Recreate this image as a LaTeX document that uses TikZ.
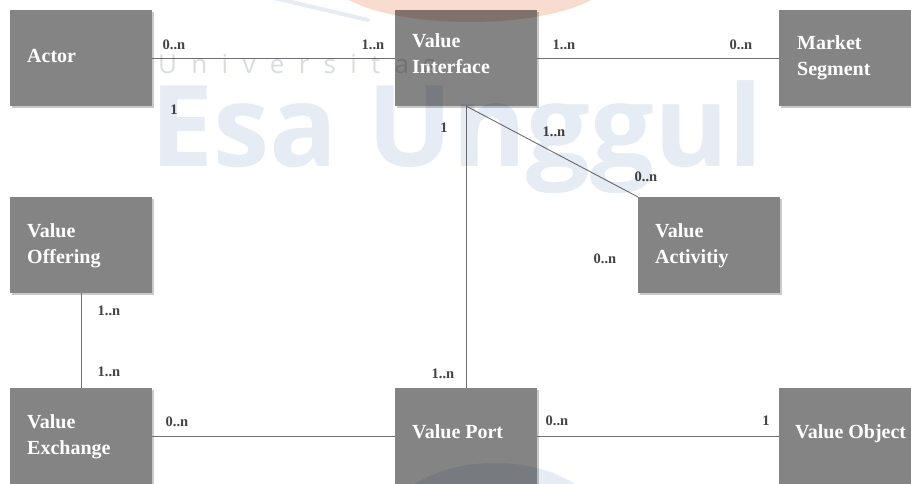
\documentclass[tikz,border=0pt]{standalone}
\usepackage{fontspec}
\setmainfont{Liberation Serif}
\newfontfamily\wmsans{Open Sans}
\newfontfamily\wmspaced{Open Sans}[LetterSpace=55]

\definecolor{boxgray}{HTML}{848484}
\definecolor{shadowgray}{HTML}{C9C9C9}
\definecolor{linkgray}{HTML}{707070}
\definecolor{cardgray}{HTML}{444444}
\definecolor{wmblue}{HTML}{E6ECF4}
\definecolor{wmpale}{HTML}{D9DDE3}
\definecolor{wmorange}{HTML}{F8DCD0}

\newcommand\boxlines[1]{\parbox[t]{120pt}{\raggedright #1}}

\tikzset{
  entity/.style={rectangle, fill=boxgray, minimum width=142pt, minimum height=96pt,
    anchor=north west, inner sep=0pt, outer sep=0pt,
    preaction={fill=shadowgray, transform canvas={xshift=2pt, yshift=-2pt}}},
  entitytext/.style={anchor=base west, inner sep=0pt, text=white,
    font=\bfseries\fontsize{20}{26}\selectfont},
  link/.style={draw=linkgray, line width=0.9pt},
  card/.style={anchor=base, inner sep=0pt, text=cardgray,
    font=\bfseries\fontsize{14.5}{15}\selectfont},
}

\begin{document}
\begin{tikzpicture}[x=1pt, y=-1pt]
\useasboundingbox (0,0) rectangle (911,484);
\clip (0,0) rectangle (911,484);
\fill[white] (0,0) rectangle (911,484);

% entity boxes
\node[entity] (actor)  at (10,10)   {};
\node[entity] (vi)     at (395,10)  {};
\node[entity] (ms)     at (779,10)  {};
\node[entity] (voff)   at (10,197)  {};
\node[entity] (vact)   at (638,197) {};
\node[entity] (vx)     at (10,388)  {};
\node[entity] (vp)     at (395,388) {};
\node[entity] (vobj)   at (779,388) {};

% entity names
\node[entitytext] (actor-t) at ([xshift=17pt, yshift=-53pt]actor.north west) {Actor};
\node[entitytext] (vi-t)    at ([xshift=17pt, yshift=-38pt]vi.north west) {\boxlines{Value\\Interface}};
\node[entitytext] (ms-t)    at ([xshift=18pt, yshift=-40pt]ms.north west) {\boxlines{Market\\Segment}};
\node[entitytext] (voff-t)  at ([xshift=17pt, yshift=-40pt]voff.north west) {\boxlines{Value\\Offering}};
\node[entitytext] (vact-t)  at ([xshift=17pt, yshift=-40pt]vact.north west) {\boxlines{Value\\Activitiy}};
\node[entitytext] (vx-t)    at ([xshift=17pt, yshift=-40pt]vx.north west) {\boxlines{Value\\Exchange}};
\node[entitytext] (vp-t)    at ([xshift=17pt, yshift=-50pt]vp.north west) {Value Port};
\node[entitytext] (vobj-t)  at ([xshift=16pt, yshift=-50pt]vobj.north west) {Value Object};

% associations
\draw[link] (actor.east) -- (vi.west);
\draw[link] (vi.east) -- (ms.west);
\draw[link] (vi.south) -- (vp.north);
\draw[link] (vi.south) -- (vact.north west);
\draw[link] (voff.south) -- (vx.north);
\draw[link] (vx.east) -- (vp.west);
\draw[link] (vp.east) -- (vobj.west);

% multiplicities
\node[card] (c1)  at (174,50)  {0..n};
\node[card] (c2)  at (373,50)  {1..n};
\node[card] (c3)  at (174,115) {1};
\node[card] (c4)  at (444,133) {1};
\node[card] (c5)  at (564,50)  {1..n};
\node[card] (c6)  at (741,50)  {0..n};
\node[card] (c7)  at (554,137) {1..n};
\node[card] (c8)  at (646,182) {0..n};
\node[card] (c9)  at (605,263) {0..n};
\node[card] (c10) at (109,315) {1..n};
\node[card] (c11) at (109,376) {1..n};
\node[card] (c12) at (443,378) {1..n};
\node[card] (c13) at (177,426) {0..n};
\node[card] (c14) at (557,425) {0..n};
\node[card] (c15) at (766,425) {1};

% faint university watermark laid over everything
\begin{scope}[blend mode=multiply]
  \fill[wmorange] (470,-22) ellipse [x radius=140, y radius=44];
  \draw[wmblue, line width=4pt, line cap=round] (270,-3) -- (368,20);
  \fill[wmblue] (495,530) ellipse [x radius=110, y radius=67];
  \node[anchor=base west, inner sep=0pt, text=wmpale,
        font=\wmspaced\fontsize{26}{26}\selectfont] (wm-top) at (158,74) {Universitas};
  \node[anchor=base west, inner sep=0pt, text=wmblue,
        font=\wmsans\bfseries\fontsize{113}{113}\selectfont] (wm-main) at (150,167) {Esa Unggul};
\end{scope}
\end{tikzpicture}
\end{document}
